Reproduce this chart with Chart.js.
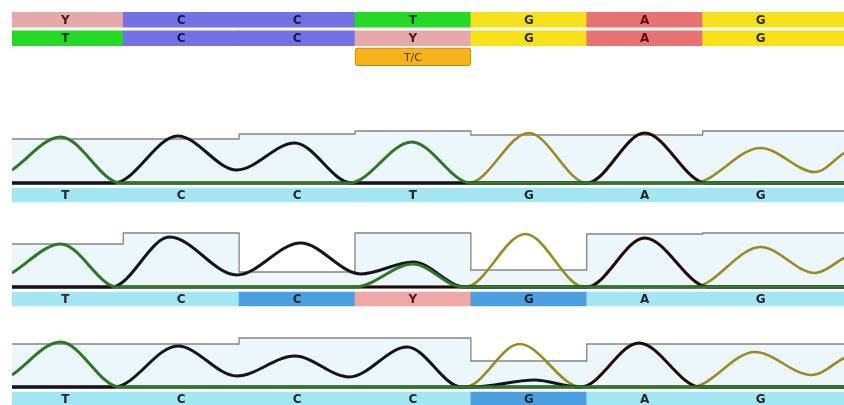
<!DOCTYPE html>
<html>
<head>
<meta charset="utf-8">
<script src="https://cdn.jsdelivr.net/npm/chart.js@4.4.1/dist/chart.umd.min.js"></script>
<style>
  html, body { margin: 0; padding: 0; background: #fff; overflow: hidden; }
  body { width: 844px; height: 405px; position: relative; }
  canvas { position: absolute; left: 0; }
</style>
</head>
<body>
<canvas id="seq" width="844" height="70" style="top:0px"></canvas>
<canvas id="trk1" width="844" height="80" style="top:125px"></canvas>
<canvas id="trk2" width="844" height="80" style="top:229px"></canvas>
<canvas id="trk3" width="844" height="80" style="top:329px"></canvas>
<script>
// base positions shown in the window
const positions = [0, 1, 2, 3, 4, 5, 6];

// consensus rows at the top
const refSeq = ['Y', 'C', 'C', 'T', 'G', 'A', 'G'];
const readSeq = ['T', 'C', 'C', 'Y', 'G', 'A', 'G'];
const variantPos = 3;
const variantLabel = 'T/C';

// base calls under each trace
const calls1 = ['T', 'C', 'C', 'T', 'G', 'A', 'G'];
const calls2 = ['T', 'C', 'C', 'Y', 'G', 'A', 'G'];
const calls3 = ['T', 'C', 'C', 'C', 'G', 'A', 'G'];
const edited1 = [];
const edited2 = [2, 4];
const edited3 = [4];

// quality bars per base
const quality1 = [880, 880, 980, 1040, 960, 960, 1040];
const quality2 = [860, 1080, 300, 1080, 340, 1060, 1080];
const quality3 = [860, 860, 980, 980, 520, 860, 860];

// trace signal [position, intensity]
const t1T = [[-0.46, 260], [-0.04, 920], [0.48, 0], [2.45, 0], [2.99, 820], [3.5, 0], [6.72, 0]];
const t1C = [[-0.46, 0], [0.42, 0], [0.97, 940], [1.48, 260], [1.98, 800], [2.47, 0], [6.72, 0]];
const t1G = [[-0.46, 0], [3.48, 0], [4.0, 1000], [4.5, 0], [5.42, 0], [6.0, 700], [6.47, 220], [6.72, 600]];
const t1A = [[-0.46, 0], [4.5, 0], [5.0, 1000], [5.53, 0], [6.72, 0]];

const t2T = [[-0.46, 280], [-0.04, 860], [0.45, 0], [2.5, 0], [3.0, 460], [3.43, 0], [6.72, 0]];
const t2C = [[-0.46, 0], [0.4, 0], [0.9, 1000], [1.48, 240], [2.03, 880], [2.55, 260], [3.0, 500], [3.45, 0], [6.72, 0]];
const t2G = [[-0.46, 0], [3.45, 0], [3.97, 1060], [4.48, 0], [5.42, 0], [6.0, 800], [6.47, 280], [6.72, 580]];
const t2A = [[-0.46, 0], [4.5, 0], [5.0, 980], [5.55, 0], [6.72, 0]];

const t3T = [[-0.46, 240], [-0.04, 900], [0.47, 0], [6.72, 0]];
const t3C = [[-0.46, 0], [0.42, 0], [0.97, 820], [1.48, 220], [1.98, 620], [2.45, 200], [2.95, 800], [3.42, 0], [3.52, 0], [4.05, 140], [4.43, 0], [6.72, 0]];
const t3G = [[-0.46, 0], [3.45, 0], [3.92, 860], [4.45, 0], [5.4, 0], [5.95, 700], [6.44, 240], [6.72, 580]];
const t3A = [[-0.46, 0], [4.45, 0], [4.95, 880], [5.48, 0], [6.72, 0]];

const X_MIN = -0.46, X_MAX = 6.72;

const cellColor = { A: '#e87171', C: '#7272e4', G: '#f6e11c', T: '#26d926', Y: '#e6a9a9' };
const letterColor = { A: '#5a1010', C: '#16164e', G: '#2e2a10', T: '#0c3a0c', Y: '#4a1818' };
const traceColor = { T: '#2e7628', C: '#14141c', G: '#9a8a24', A: '#220808' };

const CYAN = '#a2e6f4', BLUE = '#4c9fe0', PINK = '#f0a7a7';

const lettersPlugin = {
  id: 'cellLetters',
  afterDatasetsDraw(chart) {
    const ctx = chart.ctx;
    const xs = chart.scales.x;
    chart.data.datasets.forEach((ds, i) => {
      if (!ds.letters) return;
      const meta = chart.getDatasetMeta(i);
      ctx.save();
      ctx.font = ds.letterFont || 'bold 12px "DejaVu Sans"';
      ctx.textAlign = 'center';
      ctx.textBaseline = 'middle';
      meta.data.forEach((bar, j) => {
        ctx.fillStyle = ds.letterColors ? ds.letterColors[j] : '#2a2a2a';
        ctx.fillText(ds.letters[j], xs.getPixelForValue(ds.letterPos[j]), bar.y + 1);
      });
      ctx.restore();
    });
  }
};

function cellEnd(i) {
  return i === positions.length - 1 ? positions[i] + 1 : positions[i] + 0.5;
}

function seqRow(seq, row) {
  return {
    data: seq.map((b, i) => ({ y: row, x: [positions[i] - 0.5, cellEnd(i)] })),
    backgroundColor: seq.map(b => cellColor[b]),
    borderWidth: 0,
    barThickness: 15,
    grouped: false,
    clip: 0,
    letters: seq,
    letterPos: positions,
    letterColors: seq.map(b => letterColor[b])
  };
}

new Chart(document.getElementById('seq'), {
  type: 'bar',
  data: {
    labels: ['ref', 'read', 'var'],
    datasets: [
      seqRow(refSeq, 'ref'),
      seqRow(readSeq, 'read'),
      {
        data: [{ y: 'var', x: [variantPos - 0.5, variantPos + 0.5] }],
        backgroundColor: '#f6b31c',
        borderColor: '#c08610',
        borderWidth: 1,
        borderSkipped: false,
        borderRadius: 3,
        barThickness: 18,
        grouped: false,
        letters: [variantLabel],
        letterPos: [variantPos],
        letterColors: ['#5a2a08'],
        letterFont: '11px "DejaVu Sans"'
      }
    ]
  },
  options: {
    indexAxis: 'y',
    responsive: false,
    animation: false,
    devicePixelRatio: 1,
    layout: { padding: { left: 12, right: 0, top: 10.5, bottom: 4 } },
    plugins: { legend: { display: false }, tooltip: { enabled: false } },
    scales: {
      x: { type: 'linear', min: X_MIN, max: X_MAX, display: false },
      y: { type: 'category', offset: true, display: false }
    }
  },
  plugins: [lettersPlugin]
});

function trace(points, base, order) {
  return {
    type: 'line',
    label: base,
    data: points.map(p => ({ x: p[0], y: p[1] })),
    borderColor: traceColor[base],
    borderWidth: base === 'G' ? 2.6 : 3,
    pointRadius: 0,
    cubicInterpolationMode: 'monotone',
    fill: false,
    order: order
  };
}

function qualityLine(q) {
  const pts = q.map((v, i) => ({ x: positions[i] - 0.5, y: v }));
  pts.push({ x: positions[positions.length - 1] + 1, y: q[q.length - 1] });
  return {
    type: 'line',
    data: pts,
    stepped: 'before',
    borderColor: '#858585',
    borderWidth: 1.3,
    backgroundColor: 'rgba(212,238,246,0.45)',
    fill: 'origin',
    pointRadius: 0,
    order: 20
  };
}

function callRow(calls, edited) {
  return {
    type: 'bar',
    indexAxis: 'y',
    data: calls.map((c, i) => ({ y: -240, x: [positions[i] - 0.5, cellEnd(i)] })),
    backgroundColor: calls.map((c, i) => c === 'Y' ? PINK : edited.includes(i) ? BLUE : CYAN),
    borderWidth: 0,
    barThickness: 14,
    grouped: false,
    clip: 0,
    order: 10,
    letters: calls,
    letterPos: positions,
    letterColors: calls.map(c => c === 'Y' ? '#4a1818' : '#262626')
  };
}

function makeTrack(id, tr, q, calls, edited) {
  new Chart(document.getElementById(id), {
    type: 'line',
    data: {
      datasets: [
        trace(tr.T, 'T', 1),
        trace(tr.C, 'C', 2),
        trace(tr.A, 'A', 3),
        trace(tr.G, 'G', 4),
        callRow(calls, edited),
        qualityLine(q)
      ]
    },
    options: {
      responsive: false,
      animation: false,
      devicePixelRatio: 1,
      layout: { padding: { left: 12, right: 0, top: 0, bottom: 0 } },
      plugins: { legend: { display: false }, tooltip: { enabled: false } },
      scales: {
        x: { type: 'linear', min: X_MIN, max: X_MAX, offset: false, display: false },
        y: { type: 'linear', min: -440, max: 1160, offset: false, display: false }
      }
    },
    plugins: [lettersPlugin]
  });
}

makeTrack('trk1', { T: t1T, C: t1C, G: t1G, A: t1A }, quality1, calls1, edited1);
makeTrack('trk2', { T: t2T, C: t2C, G: t2G, A: t2A }, quality2, calls2, edited2);
makeTrack('trk3', { T: t3T, C: t3C, G: t3G, A: t3A }, quality3, calls3, edited3);
</script>
</body>
</html>
